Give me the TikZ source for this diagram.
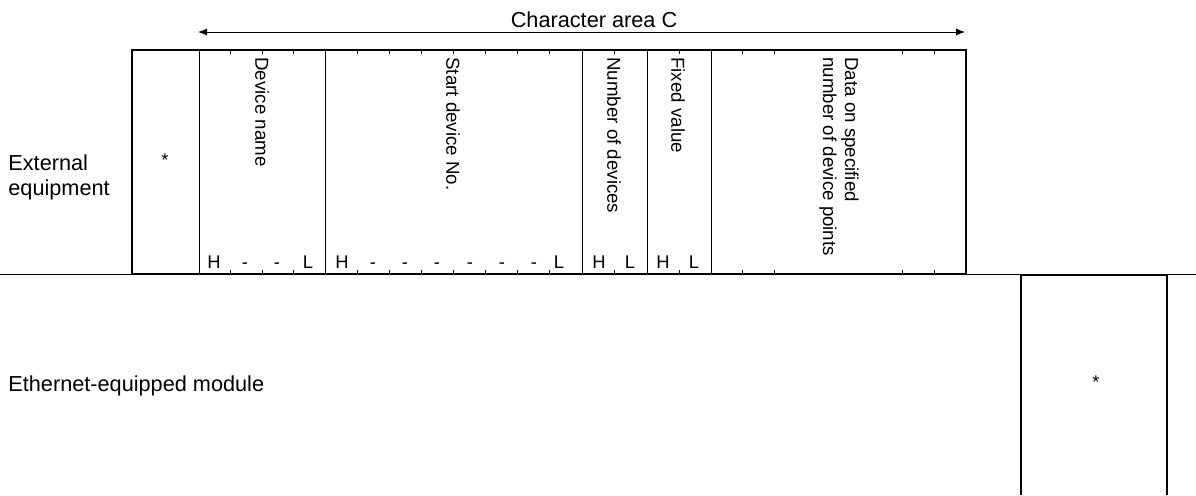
\documentclass[tikz,border=0pt]{standalone}
\usepackage{fontspec}
\setmainfont{Liberation Sans}
\usetikzlibrary{arrows.meta,positioning}

\begin{document}
\begin{tikzpicture}[x=0.5pt,y=-0.5pt,>={Latex[length=4.5pt,width=3.6pt]},font=\fontsize{10.85}{12.5}\selectfont]
  \tikzstyle{side}=[inner sep=0pt,align=left,anchor=west]
  \tikzstyle{field}=[inner sep=0pt,rotate=-90,anchor=west,align=left,font=\fontsize{9.35}{11}\selectfont]
  \tikzstyle{byte}=[inner sep=0pt,anchor=base,font=\fontsize{9.2}{10}\selectfont]
  \tikzstyle{frame}=[line width=1pt]
  \tikzstyle{divider}=[line width=0.5pt]

  \useasboundingbox (0,0) rectangle (1196,495);

  % Separator
  \draw[divider] (0,274) -- (1196,274);

  % Command frame
  \draw[frame] (132,50) rectangle (966,274);
  \foreach \x in {199,325,582,647,711}
    \draw[divider] (\x,50) -- (\x,274);
  \foreach \x in {230.5,262,293.5,357.1,389.3,421.4,453.5,485.6,517.8,549.9,614.5,679,742.9,774.8,902.3,934.1} {
    \draw[divider] (\x,50) -- (\x,54);
    \draw[divider] (\x,274) -- (\x,270);
  }

  % Byte order
  \foreach \x/\t in {214/H,245/-,277/-,308/L,342/H,373/-,405/-,437/-,470/-,502/-,534/-,559/L,599/H,630/L,663/H,694/L}
    \node[byte] (b\x) at (\x,268) {\t};

  % Fields
  \node[byte,anchor=center] (head) at (165,160) {*};
  \node[field] (devname) at (262,57) {Device name};
  \node[field] (startno) at (453,57) {Start device No.};
  \node[field] (numdev) at (614,57) {Number of devices};
  \node[field] (fixed) at (678,57) {Fixed value};
  \node[field] (data) at (839,57) {Data on specified\\number of device points};

  % Character area
  \coordinate (areal) at (198,32);
  \coordinate (arear) at (965,32);
  \draw[<->,divider] (areal) -- (arear);
  \node[inner sep=0pt] (area) at (594,20) {Character area C};

  % Sides
  \node[side] (ext) at (8,177) {External\\equipment};
  \node[side] (eth) at (8,386) {Ethernet-equipped module};

  % Response frame
  \draw[frame] (1021,495) -- (1021,275) -- (1167,275) -- (1167,495);
  \node[byte,anchor=center] (tail) at (1096,382) {*};
\end{tikzpicture}
\end{document}
